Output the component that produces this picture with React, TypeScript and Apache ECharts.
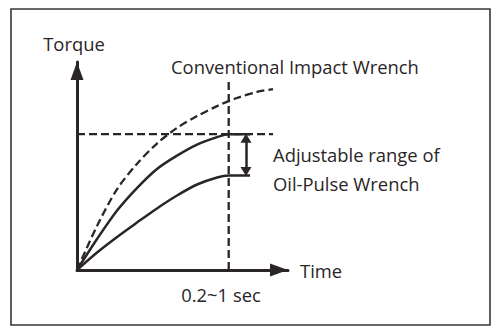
import React, { useEffect, useRef } from "react";
import * as echarts from "echarts";

const conventional: [number, number][] = [
  [0, 0], [9.5, 21.2], [19, 38.9], [28.4, 51.0], [37.9, 60.8], [47.4, 68.3],
  [56.9, 74.0], [66.4, 78.8], [75.8, 82.7], [85.3, 85.6], [92.9, 87.0],
];
const oilPulseHigh: [number, number][] = [
  [0, 0], [9.5, 14.9], [19, 28.6], [28.4, 39.4], [37.9, 48.6], [47.4, 55.0],
  [56.9, 60.3], [66.4, 63.9], [72, 65.3], [82, 65.3],
];
const oilPulseLow: [number, number][] = [
  [0, 0], [9.5, 8.4], [19, 15.9], [28.4, 22.8], [37.9, 29.6], [47.4, 35.8],
  [56.9, 41.1], [66.4, 44.5], [72, 45.4], [82, 45.4],
];
const maxTorqueLine: [number, number][] = [[0, 65.3], [92.9, 65.3]];
const timeLine: [number, number][] = [[71.9, 0], [71.9, 90.4]];
const rangeArrow = { x: 80.1, top: 63.3, bottom: 47.4 };
const labels = {
  y: "Torque",
  x: "Time",
  conventional: "Conventional Impact Wrench",
  range1: "Adjustable range of",
  range2: "Oil-Pulse Wrench",
  time: "0.2~1 sec",
};

const INK = "#2a2526";
const FONT = "Open Sans";

export default function App() {
  const ref = useRef<HTMLDivElement>(null);
  useEffect(() => {
    const chart = echarts.init(ref.current!, null, { renderer: "svg" });
    const lineBase = { type: "line", showSymbol: false, symbol: "none", silent: true };
    const txt = (text: string, x: number, y: number, align = "left") => ({
      type: "text",
      x,
      y,
      style: {
        text,
        fill: INK,
        font: `18.4px "${FONT}"`,
        textAlign: align,
        textVerticalAlign: "middle",
      },
    });
    const axisLine = {
      show: true,
      onZero: false,
      symbol: ["none", "triangle"],
      symbolSize: [13, 18],
      symbolOffset: [0, -9],
      lineStyle: { color: INK, width: 3 },
    };
    chart.setOption({
      animation: false,
      backgroundColor: "#ffffff",
      grid: { left: 77, top: 62, width: 211, height: 208 },
      xAxis: {
        type: "value",
        min: 0,
        max: 100,
        axisLine,
        axisTick: { show: false },
        axisLabel: { show: false },
        splitLine: { show: false },
      },
      yAxis: {
        type: "value",
        min: 0,
        max: 100,
        axisLine,
        axisTick: { show: false },
        axisLabel: { show: false },
        splitLine: { show: false },
      },
      series: [
        {
          ...lineBase,
          data: maxTorqueLine,
          lineStyle: { color: INK, width: 2.3, type: [8, 4] },
        },
        {
          ...lineBase,
          data: timeLine,
          lineStyle: { color: INK, width: 2.3, type: [8, 4] },
        },
        {
          ...lineBase,
          data: conventional,
          smooth: 0.3,
          lineStyle: { color: INK, width: 2.3, type: [8, 4] },
        },
        {
          ...lineBase,
          data: oilPulseHigh,
          smooth: 0.3,
          lineStyle: { color: INK, width: 2.5 },
        },
        {
          ...lineBase,
          data: oilPulseLow,
          smooth: 0.3,
          lineStyle: { color: INK, width: 2.5 },
          markLine: {
            silent: true,
            symbol: ["triangle", "triangle"],
            symbolSize: [11, 9],
            label: { show: false },
            lineStyle: { color: INK, width: 2.5, type: "solid" },
            data: [
              [
                { coord: [rangeArrow.x, rangeArrow.top] },
                { coord: [rangeArrow.x, rangeArrow.bottom] },
              ],
            ],
          },
        },
      ],
      graphic: [
        {
          type: "rect",
          shape: { x: 11, y: 9, width: 479, height: 316 },
          style: { fill: "none", stroke: "#3a3637", lineWidth: 1.6 },
          silent: true,
        },
        txt(labels.y, 74, 43, "center"),
        txt(labels.conventional, 171, 66),
        txt(labels.range1, 273, 154),
        txt(labels.range2, 273, 183),
        txt(labels.x, 300, 270),
        txt(labels.time, 221, 294, "center"),
      ],
    });
    return () => chart.dispose();
  }, []);
  return (
    <div
      ref={ref}
      style={{ position: "absolute", left: 0, top: 0, width: 494, height: 327 }}
    />
  );
}
